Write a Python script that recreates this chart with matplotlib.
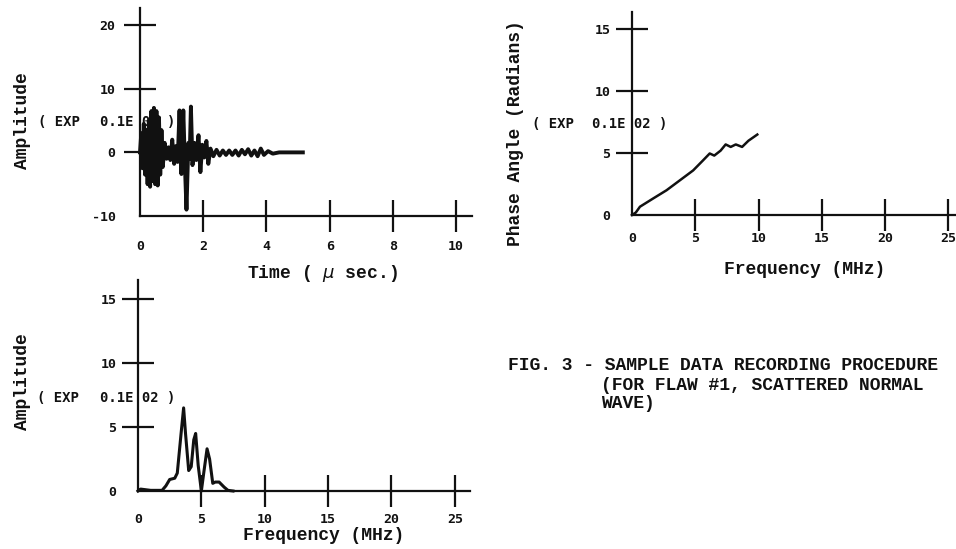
import matplotlib
matplotlib.use("Agg")
import matplotlib.pyplot as plt

plt.rcParams["axes.unicode_minus"] = False

W, H = 956, 549

# time trace, microseconds vs amplitude (x 0.1E 02)
time_us = [0.00, 0.04, 0.08, 0.12, 0.16, 0.20, 0.24, 0.28, 0.32, 0.36, 0.40, 0.44,
           0.48, 0.52, 0.56, 0.60, 0.64, 0.68, 0.72, 0.78, 0.84, 0.90, 0.96, 1.02,
           1.08, 1.14, 1.19, 1.25, 1.31, 1.37, 1.42, 1.47, 1.53, 1.57, 1.61, 1.66,
           1.72, 1.78, 1.85, 1.91, 1.97, 2.03, 2.10, 2.16, 2.23, 2.32, 2.42, 2.52,
           2.62, 2.72, 2.82, 2.92, 3.02, 3.12, 3.22, 3.32, 3.42, 3.52, 3.62, 3.72,
           3.82, 3.92, 4.05, 4.20, 4.40, 5.15]
amp_time = [0.0, 3.0, -2.5, 4.5, -3.5, 3.5, -5.0, 5.0, -5.4, 6.5, -4.5, 7.0,
            -5.0, 6.5, -5.2, 5.5, -3.5, 3.5, -2.3, 1.5, -1.0, 0.8, -1.2, 2.0,
            -1.8, 1.0, -1.5, 6.6, -3.4, 6.6, -2.0, -9.0, 1.5, -1.0, 7.2, -2.0,
            1.5, -1.2, 2.7, -3.1, 1.2, -0.8, 1.8, -1.8, 0.6, -0.6, 0.4, -0.5,
            0.3, -0.4, 0.3, -0.4, 0.3, -0.5, 0.4, -0.3, 0.5, -0.5, 0.3, -0.6,
            0.6, -0.4, 0.2, -0.2, 0.0, 0.0]

# phase spectrum
phase_f = [0.0, 0.3, 0.63, 1.68, 2.73, 3.78, 4.83, 5.6, 6.14, 6.5, 7.0, 7.4,
           7.8, 8.2, 8.7, 9.2, 9.9]
phase_rad = [0.0, 0.2, 0.67, 1.34, 2.0, 2.8, 3.6, 4.4, 4.97, 4.8, 5.2, 5.7,
             5.5, 5.7, 5.5, 6.0, 6.5]

# amplitude spectrum
spec_f = [0.0, 0.2, 1.0, 1.9, 2.2, 2.5, 2.9, 3.1, 3.4, 3.6, 3.75, 4.0, 4.2,
          4.4, 4.55, 4.75, 5.0, 5.2, 5.45, 5.65, 5.9, 6.1, 6.4, 6.8, 7.1, 7.5]
spec_amp = [0.0, 0.15, 0.05, 0.05, 0.4, 0.9, 1.0, 1.4, 4.5, 6.5, 4.5, 1.6, 1.9,
            4.0, 4.5, 2.0, 0.0, 1.5, 3.3, 2.5, 0.6, 0.7, 0.7, 0.3, 0.05, 0.0]

time_ticks = [0, 2, 4, 6, 8, 10]
amp_ticks = [-10, 0, 10, 20]
freq_ticks = [0, 5, 10, 15, 20, 25]
phase_ticks = [0, 5, 10, 15]
spec_ticks = [0, 5, 10, 15]

INK = "#111111"
TICKFONT = dict(family="DejaVu Sans Mono", weight="bold", size=9.5)
LABELFONT = dict(family="Liberation Mono", weight="bold", size=13)

fig = plt.figure(figsize=(W / 100, H / 100), dpi=100)


def make_axes(left, right, bottom, top):
    return fig.add_axes([left / W, 1 - bottom / H, (right - left) / W, (bottom - top) / H])


def style(ax, xlim, ylim, xt, yt, xpad, ypad):
    ax.set_xlim(*xlim)
    ax.set_ylim(*ylim)
    ax.set_xticks(xt)
    ax.set_yticks(yt)
    for s in ["top", "right"]:
        ax.spines[s].set_visible(False)
    for s in ["left", "bottom"]:
        ax.spines[s].set_linewidth(1.6)
        ax.spines[s].set_color(INK)
    ax.tick_params(axis="x", direction="inout", length=23, width=1.6, color=INK, pad=xpad)
    ax.tick_params(axis="y", direction="inout", length=23, width=1.6, color=INK, pad=ypad)
    ax.xaxis.get_major_ticks()[0].tick1line.set_visible(False)
    ax.yaxis.get_major_ticks()[0].tick1line.set_visible(False)
    for lab in ax.get_xticklabels() + ax.get_yticklabels():
        lab.set_fontfamily(TICKFONT["family"])
        lab.set_fontweight(TICKFONT["weight"])
        lab.set_fontsize(TICKFONT["size"])
        lab.set_color(INK)
    ax.patch.set_alpha(0)


def ftext(x, y, s, **kw):
    fig.text(x / W, 1 - y / H, s, color=INK, **kw)


# top left: time signal
ax1 = make_axes(140, 472, 216, 8)
style(ax1, (0, 10.5), (-10, 22.7), time_ticks, amp_ticks, 6, 6)
ax1.plot(time_us, amp_time, color=INK, lw=2.8, zorder=5, clip_on=False)

# top right: phase
ax2 = make_axes(632, 956, 215, 12)
style(ax2, (0, 25.6), (0, 16.4), freq_ticks, phase_ticks, 1, 4)
ax2.plot(phase_f, phase_rad, color=INK, lw=1.8, zorder=5, clip_on=False)

# bottom left: amplitude spectrum
ax3 = make_axes(138, 470, 491, 280)
style(ax3, (0, 26.2), (0, 16.5), freq_ticks, spec_ticks, 4, 4)
ax3.plot(spec_f, spec_amp, color=INK, lw=2.2, zorder=5, clip_on=False)

# exponent notes
EXPFONT = dict(family="DejaVu Sans Mono", weight="bold", size=10)
ftext(38, 122, "( EXP", ha="left", va="center", **EXPFONT)
ftext(100, 122, "0.1E 02 )", ha="left", va="center", zorder=1, **EXPFONT)
ftext(532, 124, "( EXP", ha="left", va="center", **EXPFONT)
ftext(592, 124, "0.1E 02 )", ha="left", va="center", **EXPFONT)
ftext(37, 398, "( EXP", ha="left", va="center", **EXPFONT)
ftext(100, 398, "0.1E 02 )", ha="left", va="center", **EXPFONT)

# axis labels
ftext(23, 121, "Amplitude", rotation=90, ha="center", va="center", **LABELFONT)
ftext(322, 273, "Time ( $\\mu$ sec.)", ha="center", va="center", **LABELFONT)
ftext(515, 133, "Phase Angle (Radians)", rotation=90, ha="center", va="center", **LABELFONT)
ftext(805, 269, "Frequency (MHz)", ha="center", va="center", **LABELFONT)
ftext(23, 382, "Amplitude", rotation=90, ha="center", va="center", **LABELFONT)
ftext(324, 535, "Frequency (MHz)", ha="center", va="center", **LABELFONT)

# caption
CAPFONT = dict(family="Liberation Mono", weight="bold", size=13)
ftext(508, 366, "FIG. 3 - SAMPLE DATA RECORDING PROCEDURE", ha="left", va="center", **CAPFONT)
ftext(601, 385, "(FOR FLAW #1, SCATTERED NORMAL", ha="left", va="center", **CAPFONT)
ftext(601, 403, "WAVE)", ha="left", va="center", **CAPFONT)

fig.savefig("out.png", dpi=100, facecolor="white")
